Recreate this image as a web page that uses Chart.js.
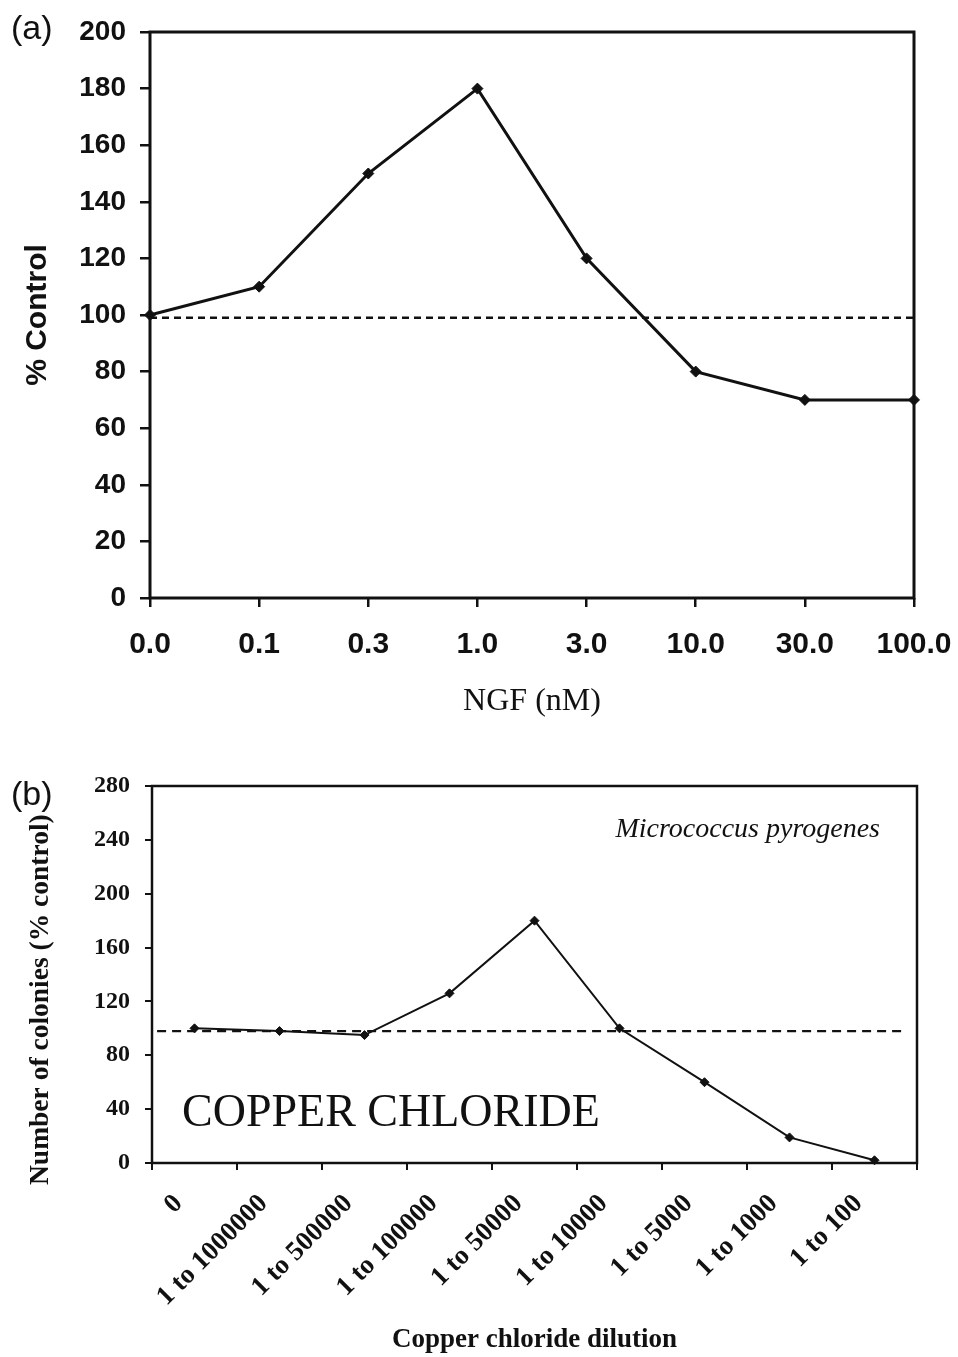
<!DOCTYPE html>
<html>
<head>
<meta charset="utf-8">
<script src="https://cdn.jsdelivr.net/npm/chart.js@4.4.1/dist/chart.umd.min.js"></script>
<style>
  html, body { margin: 0; padding: 0; background: #fff; }
  #wrap { position: relative; width: 958px; height: 1357px; overflow: hidden; }
  canvas { position: absolute; left: 0; }
  #cA { top: 0; }
  #cB { top: 740px; }
  .panel { position: absolute; left: 11px; font: 34px "Liberation Sans", Arial, sans-serif; line-height: 1; color: #111; }
</style>
</head>
<body>
<div id="wrap">
  <canvas id="cA" width="958" height="728"></canvas>
  <canvas id="cB" width="958" height="617"></canvas>
  <div class="panel" style="top:10px">(a)</div>
  <div class="panel" style="top:776px">(b)</div>
</div>
<script>
// ---------- Data: panel (a) ----------
const ngfLabels = ['0.0', '0.1', '0.3', '1.0', '3.0', '10.0', '30.0', '100.0'];
const ngfControl = [100, 110, 150, 180, 120, 80, 70, 70];
const ngfBaseline = 99;
const ngfYMin = 0, ngfYMax = 200, ngfYStep = 20;

// ---------- Data: panel (b) ----------
const dilutionLabels = ['0', '1 to 1000000', '1 to 500000', '1 to 100000', '1 to 50000',
                        '1 to 10000', '1 to 5000', '1 to 1000', '1 to 100'];
const colonies = [100, 98, 95, 126, 180, 100, 60, 19, 2];
const coloniesBaseline = 98;
const coloniesBaselineSpan = [-0.44, 8.36];
const colYMin = 0, colYMax = 280, colYStep = 40;

const SANS = '"Liberation Sans", Arial, sans-serif';
const SERIF = '"Liberation Serif", "Times New Roman", serif';

const framePlugin = {
  id: 'frame',
  beforeDatasetsDraw(chart, args, opts) {
    const { ctx, chartArea: { left, top, right, bottom } } = chart;
    ctx.save();
    ctx.strokeStyle = '#111';
    ctx.lineWidth = opts.width || 2;
    ctx.strokeRect(left, top, right - left, bottom - top);
    ctx.restore();
  }
};

const notesPlugin = {
  id: 'notes',
  afterDatasetsDraw(chart, args, opts) {
    if (!opts.items) return;
    const { ctx, chartArea } = chart;
    ctx.save();
    ctx.fillStyle = '#111';
    for (const it of opts.items) {
      ctx.save();
      ctx.font = it.font;
      ctx.textAlign = it.align;
      ctx.textBaseline = it.baseline || 'alphabetic';
      let x = it.align === 'right' ? chartArea.right - it.dx : chartArea.left + it.dx;
      if (it.fromCanvasLeft) x = it.dx;
      const y = it.fromBottom ? chartArea.bottom + it.dy : chartArea.top + it.dy;
      ctx.translate(x, y);
      if (it.rotate) ctx.rotate(it.rotate);
      ctx.fillText(it.text, 0, 0);
      ctx.restore();
    }
    ctx.restore();
  }
};

Chart.register(framePlugin, notesPlugin);

function noSidePadding(s) { s.paddingLeft = 0; s.paddingRight = 0; }

// ---------- Chart (a) ----------
new Chart(document.getElementById('cA'), {
  type: 'line',
  data: {
    labels: ngfLabels,
    datasets: [
      {
        data: ngfLabels.map(() => ngfBaseline),
        borderColor: '#111',
        borderWidth: 2.5,
        borderDash: [7, 5],
        pointRadius: 0,
        fill: false,
        clip: false,
        order: 2
      },
      {
        data: ngfControl,
        borderColor: '#111',
        backgroundColor: '#111',
        borderWidth: 3,
        pointStyle: 'rectRot',
        pointRadius: 5.5,
        pointBorderWidth: 1,
        tension: 0,
        fill: false,
        clip: false,
        order: 1
      }
    ]
  },
  options: {
    responsive: false,
    animation: false,
    events: [],
    layout: { padding: { top: 32, right: 44, left: 0, bottom: 0 } },
    plugins: { legend: { display: false }, tooltip: { enabled: false }, frame: { width: 3 } },
    scales: {
      x: {
        type: 'category',
        offset: false,
        afterFit(s) { s.height = 130; noSidePadding(s); },
        border: { display: false },
        grid: { drawOnChartArea: false, drawTicks: true, tickLength: 9, color: '#111', lineWidth: 2.5, offset: false },
        ticks: { color: '#111', font: { family: SANS, size: 30, weight: 'bold' }, padding: 20, maxRotation: 0, autoSkip: false },
        title: { display: true, text: 'NGF (nM)', color: '#111', font: { family: SERIF, size: 32, weight: 'normal' }, padding: { top: 0, bottom: 7 } }
      },
      y: {
        min: ngfYMin, max: ngfYMax,
        afterFit(s) { s.width = 150; },
        border: { display: false },
        grid: { drawOnChartArea: false, drawTicks: true, tickLength: 10, color: '#111', lineWidth: 2.5 },
        ticks: { stepSize: ngfYStep, color: '#111', font: { family: SANS, size: 28, weight: 'bold' }, padding: 14 },
        title: { display: true, text: '% Control', color: '#111', font: { family: SANS, size: 30, weight: 'bold' }, padding: { top: 20, bottom: 0 } }
      }
    }
  }
});

// ---------- Chart (b) ----------
new Chart(document.getElementById('cB'), {
  type: 'line',
  data: {
    labels: dilutionLabels,
    datasets: [
      {
        xAxisID: 'x2',
        data: coloniesBaselineSpan.map(v => ({ x: v, y: coloniesBaseline })),
        borderColor: '#111',
        borderWidth: 2.2,
        borderDash: [9, 6],
        pointRadius: 0,
        fill: false,
        clip: false,
        order: 2
      },
      {
        xAxisID: 'x',
        data: colonies,
        borderColor: '#111',
        backgroundColor: '#111',
        borderWidth: 2,
        pointStyle: 'rectRot',
        pointRadius: 4.5,
        pointBorderWidth: 1,
        tension: 0,
        fill: false,
        clip: false,
        order: 1
      }
    ]
  },
  options: {
    responsive: false,
    animation: false,
    events: [],
    layout: { padding: { top: 46, right: 41, left: 0, bottom: 0 } },
    plugins: {
      legend: { display: false }, tooltip: { enabled: false },
      frame: { width: 2.5 },
      notes: {
        items: [
          { text: 'Micrococcus pyrogenes', font: 'italic 28px ' + SERIF, align: 'right', dx: 37, dy: 51 },
          { text: 'COPPER CHLORIDE', font: '46px ' + SERIF, align: 'left', dx: 30, dy: 340 },
          { text: 'Number of colonies (% control)', font: 'bold 27.5px ' + SERIF, align: 'left', baseline: 'middle',
            fromCanvasLeft: true, dx: 41, fromBottom: true, dy: 22, rotate: -Math.PI / 2 }
        ]
      }
    },
    scales: {
      x: {
        type: 'category',
        offset: true,
        afterFit(s) { s.height = 194; noSidePadding(s); },
        border: { display: false },
        grid: { drawOnChartArea: false, drawTicks: true, tickLength: 7, color: '#111', lineWidth: 2, offset: true },
        ticks: { color: '#111', font: { family: SERIF, size: 27, weight: 'bold' }, padding: 18, minRotation: 45, maxRotation: 45, autoSkip: false, labelOffset: -16 },
        title: { display: true, text: 'Copper chloride dilution', color: '#111', font: { family: SERIF, size: 27, weight: 'bold' }, padding: { top: 0, bottom: 1 } }
      },
      x2: {
        type: 'linear',
        display: false,
        min: -0.5,
        max: dilutionLabels.length - 0.5
      },
      y: {
        min: colYMin, max: colYMax,
        afterFit(s) { s.width = 152; },
        border: { display: false },
        grid: { drawOnChartArea: false, drawTicks: true, tickLength: 7, color: '#111', lineWidth: 2 },
        ticks: { stepSize: colYStep, color: '#111', font: { family: SERIF, size: 24, weight: 'bold' }, padding: 15 }
      }
    }
  }
});
</script>
</body>
</html>
